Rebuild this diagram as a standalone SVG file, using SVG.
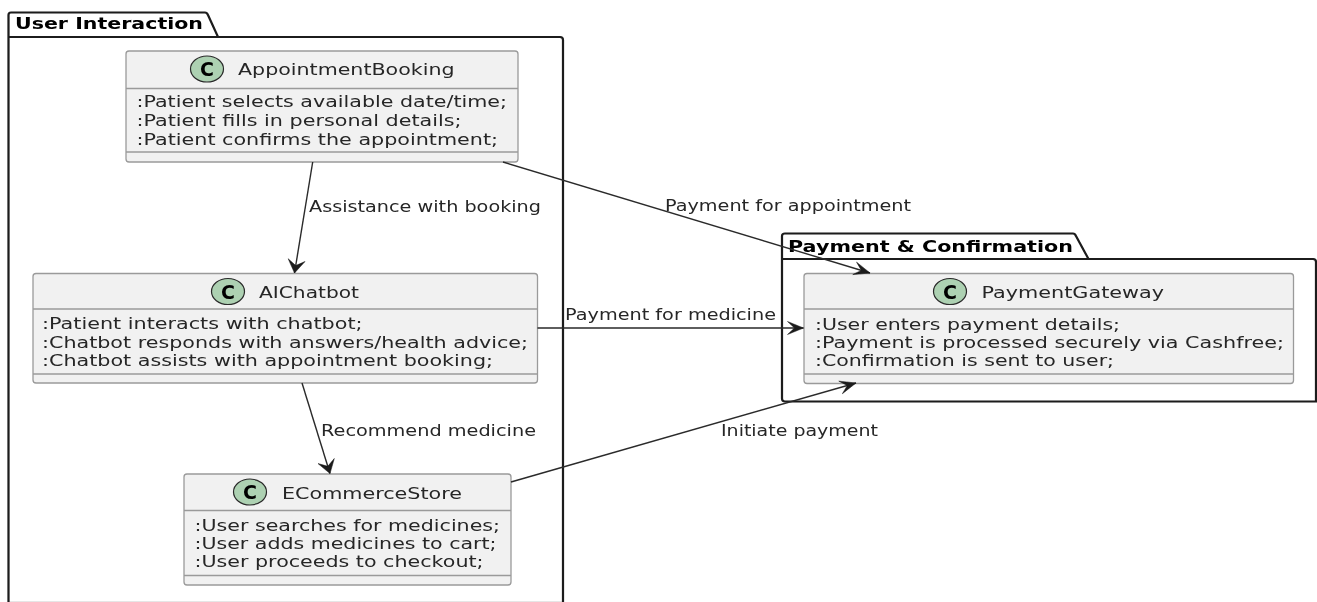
<svg xmlns="http://www.w3.org/2000/svg" width="1317" height="602" viewBox="0 0 1317 602">
  <style>
    text { font-family: "DejaVu Sans", "Liberation Sans", sans-serif; fill: #262626; font-size: 16.5px; }
    .pkg { fill: none; stroke: #1a1a1a; stroke-width: 2.2; }
    .pkgt { font-weight: bold; fill: #000; }
    .box { fill: #f1f1f1; stroke: #9a9a9a; stroke-width: 1.3; }
    .sep { stroke: #9a9a9a; stroke-width: 1.3; fill: none; }
    .spot { fill: #add1b2; stroke: #2a2a2a; stroke-width: 1.2; }
    .c { font-weight: bold; fill: #000; font-size: 19px; text-anchor: middle; }
    .edge { fill: none; stroke: #2a2a2a; stroke-width: 1.4; }
    .steep { marker-end: url(#arrow-steep); }
    .flat { marker-end: url(#arrow-flat); }
    g.soft { filter: url(#soft); }
  </style>
  <defs>
    <filter id="soft" x="-5%" y="-5%" width="110%" height="110%">
      <feGaussianBlur stdDeviation="0.4"/>
    </filter>
    <marker id="arrow-steep" markerUnits="userSpaceOnUse" markerWidth="20" markerHeight="18" refX="16" refY="8" orient="auto" overflow="visible">
      <path d="M3,-0.5 L16,8 L3,16.5 L8.5,8 Z" fill="#1a1a1a" stroke="#1a1a1a" stroke-width="0.5"/>
    </marker>
    <marker id="arrow-flat" markerUnits="userSpaceOnUse" markerWidth="20" markerHeight="18" refX="16" refY="8" orient="auto" overflow="visible">
      <path d="M0,1.5 L16,8 L0,14.5 L7,8 Z" fill="#1a1a1a" stroke="#1a1a1a" stroke-width="0.5"/>
    </marker>
  </defs>

  <g id="package-user-interaction" class="soft">
    <path d="M9,601.5 H562" fill="none" stroke="#e6e6e6" stroke-width="1"/>
    <path class="pkg" d="M8.5,602 V15 Q8.5,12.5 11,12.5 H205 Q207,12.5 208,15 L218,37 H560 Q563,37 563,40 V602"/>
    <path class="pkg" d="M8.5,37 H218"/>
    <text class="pkgt" x="15" y="29" textLength="188" lengthAdjust="spacingAndGlyphs">User Interaction</text>
  </g>
  <g id="package-payment-confirmation" class="soft">
    <path class="pkg" d="M782,259 V236 Q782,233.5 785,233.5 H1073 Q1075,233.5 1076,236 L1088.5,259 H1313 Q1316,259 1316,262 V401.5 H785 Q782,401.5 782,398.5 Z"/>
    <path class="pkg" d="M782,259 H1088.5"/>
    <text class="pkgt" x="788" y="251.5" textLength="285" lengthAdjust="spacingAndGlyphs">Payment &amp; Confirmation</text>
  </g>

  <g id="AppointmentBooking" class="soft">
    <rect class="box" x="126" y="51" width="392" height="111" rx="3"/>
    <path class="sep" d="M126,88.5 H518 M126,152 H518"/>
    <ellipse class="spot" cx="207" cy="69" rx="16.5" ry="13"/>
    <text class="c" x="207" y="76">C</text>
    <text x="238" y="75" textLength="216.5" lengthAdjust="spacingAndGlyphs">AppointmentBooking</text>
    <text x="136.5" y="107" textLength="370.5" lengthAdjust="spacingAndGlyphs">:Patient selects available date/time;</text>
    <text x="136.5" y="126" textLength="325" lengthAdjust="spacingAndGlyphs">:Patient fills in personal details;</text>
    <text x="136.5" y="145" textLength="361.5" lengthAdjust="spacingAndGlyphs">:Patient confirms the appointment;</text>
  </g>
  <g id="AIChatbot" class="soft">
    <rect class="box" x="33" y="273.5" width="504.5" height="109.5" rx="3"/>
    <path class="sep" d="M33,309 H537.5 M33,374 H537.5"/>
    <ellipse class="spot" cx="228" cy="291.5" rx="16.5" ry="13"/>
    <text class="c" x="228" y="298.5">C</text>
    <text x="259" y="297.5" textLength="100" lengthAdjust="spacingAndGlyphs">AIChatbot</text>
    <text x="42" y="329" textLength="320.5" lengthAdjust="spacingAndGlyphs">:Patient interacts with chatbot;</text>
    <text x="42" y="347.5" textLength="486" lengthAdjust="spacingAndGlyphs">:Chatbot responds with answers/health advice;</text>
    <text x="42" y="366" textLength="451" lengthAdjust="spacingAndGlyphs">:Chatbot assists with appointment booking;</text>
  </g>
  <g id="ECommerceStore" class="soft">
    <rect class="box" x="184" y="474" width="327" height="111" rx="3"/>
    <path class="sep" d="M184,510.5 H511 M184,575.5 H511"/>
    <ellipse class="spot" cx="250" cy="492" rx="16.5" ry="13"/>
    <text class="c" x="250" y="499">C</text>
    <text x="282" y="498.5" textLength="180" lengthAdjust="spacingAndGlyphs">ECommerceStore</text>
    <text x="194.5" y="530.5" textLength="305.5" lengthAdjust="spacingAndGlyphs">:User searches for medicines;</text>
    <text x="194.5" y="549" textLength="302" lengthAdjust="spacingAndGlyphs">:User adds medicines to cart;</text>
    <text x="194.5" y="567" textLength="289" lengthAdjust="spacingAndGlyphs">:User proceeds to checkout;</text>
  </g>
  <g id="PaymentGateway" class="soft">
    <rect class="box" x="804" y="273.5" width="489.5" height="110" rx="3"/>
    <path class="sep" d="M804,309 H1293.5 M804,374 H1293.5"/>
    <ellipse class="spot" cx="950" cy="291.5" rx="16.5" ry="13"/>
    <text class="c" x="950" y="298.5">C</text>
    <text x="981.5" y="298" textLength="182.5" lengthAdjust="spacingAndGlyphs">PaymentGateway</text>
    <text x="815" y="329.5" textLength="305" lengthAdjust="spacingAndGlyphs">:User enters payment details;</text>
    <text x="815" y="347.5" textLength="469" lengthAdjust="spacingAndGlyphs">:Payment is processed securely via Cashfree;</text>
    <text x="815" y="366" textLength="299" lengthAdjust="spacingAndGlyphs">:Confirmation is sent to user;</text>
  </g>

  <g id="connectors" class="soft">
    <line class="edge steep" x1="312.7" y1="162" x2="294.5" y2="273"/>
    <line class="edge steep" x1="302" y1="383" x2="330" y2="473.5"/>
    <line class="edge flat" x1="503" y1="162" x2="870" y2="273"/>
    <line class="edge flat" x1="537.5" y1="328" x2="803.5" y2="328"/>
    <line class="edge flat" x1="511" y1="482" x2="856" y2="383"/>
    <text x="309" y="211.5" textLength="232" lengthAdjust="spacingAndGlyphs">Assistance with booking</text>
    <text x="321" y="435.5" textLength="215" lengthAdjust="spacingAndGlyphs">Recommend medicine</text>
    <text x="665" y="211" textLength="246" lengthAdjust="spacingAndGlyphs">Payment for appointment</text>
    <text x="565" y="319.5" textLength="211" lengthAdjust="spacingAndGlyphs">Payment for medicine</text>
    <text x="721" y="435.5" textLength="157" lengthAdjust="spacingAndGlyphs">Initiate payment</text>
  </g>
</svg>
